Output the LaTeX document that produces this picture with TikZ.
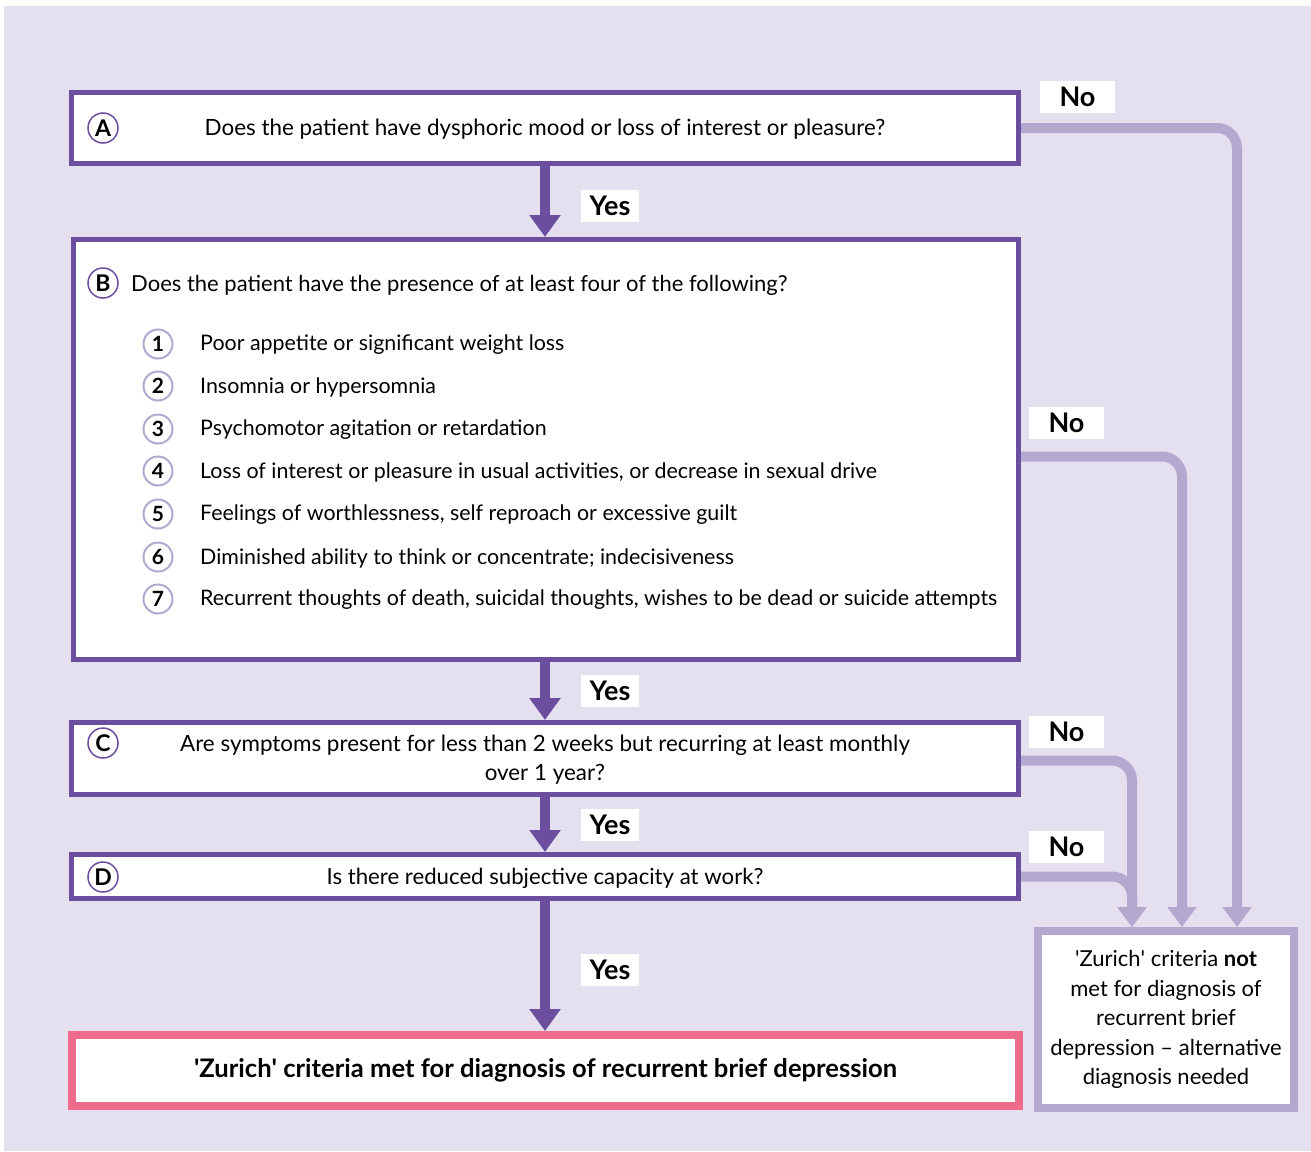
\documentclass[tikz,border=0pt]{standalone}
\usepackage{fontspec}
\setmainfont{Lato}
\usetikzlibrary{arrows.meta}
\definecolor{bg}{HTML}{E4E0F0}
\definecolor{dpurple}{HTML}{6B4F9E}
\definecolor{lpurple}{HTML}{B5A8CF}
\definecolor{pinkc}{HTML}{EF6B8C}
\newcommand{\sq}{\textquotesingle}
\begin{document}
\begin{tikzpicture}[x=1pt,y=-1pt,
  every node/.style={text=black},
  txt/.style={font=\fontsize{22.4}{29}\selectfont},
  itm/.style={font=\fontsize{21.4}{25}\selectfont, anchor=west, inner sep=0pt},
  qbox/.style={draw=dpurple, line width=5pt, fill=white, minimum width=947pt, inner sep=0pt},
  letter/.style={circle, draw=dpurple, line width=1.5pt, minimum size=30pt, inner sep=0pt, font=\fontsize{23}{23}\selectfont\bfseries},
  numc/.style={circle, draw=lpurple, line width=2pt, minimum size=29pt, inner sep=0pt, font=\fontsize{21}{21}\selectfont\bfseries},
  yeslink/.style={draw=dpurple, line width=10pt, -{Triangle[width=30pt,length=22pt]}},
  nolink/.style={draw=lpurple, line width=10pt, rounded corners=20pt, -{Triangle[width=28pt,length=20pt]}},
  tag/.style={fill=white, inner sep=0pt, minimum height=32pt, font=\fontsize{27}{27}\selectfont\bfseries},
  yestag/.style={tag, minimum width=58pt},
  notag/.style={tag, minimum width=75pt}]

% background panel
\useasboundingbox (0,0) rectangle (1311,1151);
\fill[bg] (4,6) rectangle (1311,1151);

% question boxes
\node[qbox, minimum height=71pt] (A) at (545,128) {};
\node[txt] (Atext) at (545,129.5) {Does the patient have dysphoric mood or loss of interest or pleasure?};
\node[letter] (Aletter) at (103,128) {A};

\node[qbox, minimum width=945pt, minimum height=420pt] (B) at (546,449.5) {};
\node[letter] (Bletter) at (103,283) {B};
\node[txt, anchor=west, inner sep=0pt, font=\fontsize{22}{26}\selectfont] (Btext) at (131,285) {Does the patient have the presence of at least four of the following?};
\foreach \n/\y/\t in {
  1/344/{Poor appetite or significant weight loss},
  2/386/{Insomnia or hypersomnia},
  3/429/{Psychomotor agitation or retardation},
  4/471/{Loss of interest or pleasure in usual activities, or decrease in sexual drive},
  5/514/{Feelings of worthlessness, self reproach or excessive guilt},
  6/557/{Diminished ability to think or concentrate; indecisiveness},
  7/599/{Recurrent thoughts of death, suicidal thoughts, wishes to be dead or suicide attempts}}{
  \node[numc] (num\n) at (158,\y) {\n};
  \node[itm] (item\n) at (200,\y+1) {\t};
}

\node[qbox, minimum height=72pt] (C) at (545,758.5) {};
\node[letter] (Cletter) at (103,743) {C};
\node[txt, align=center] (Ctext) at (545,760) {Are symptoms present for less than 2 weeks but recurring at least monthly\\ over 1 year?};

\node[qbox, minimum height=44pt] (D) at (545,876.5) {};
\node[letter] (Dletter) at (103,877) {D};
\node[txt, font=\fontsize{22.2}{26}\selectfont] (Dtext) at (545,878) {Is there reduced subjective capacity at work?};

% outcome boxes
\node[draw=pinkc, line width=8pt, fill=white, minimum width=947pt, minimum height=71pt, inner sep=0pt,
      font=\fontsize{25.6}{30}\selectfont\bfseries] (Met) at (545.5,1070.5)
      {\sq Zurich\sq{} criteria met for diagnosis of recurrent brief depression};
\node[draw=lpurple, line width=8pt, fill=white, minimum width=256pt, minimum height=177pt, inner sep=0pt,
      align=center, font=\fontsize{22}{29.6}\selectfont] (NotMet) at (1166,1019.5)
      {\sq Zurich\sq{} criteria \textbf{not}\\met for diagnosis of\\recurrent brief\\depression -- alternative\\diagnosis needed};

% yes branches
\draw[yeslink] (A.south) -- (A.south |- B.north);
\draw[yeslink] (A.south |- B.south) -- (A.south |- C.north);
\draw[yeslink] (C.south) -- (D.north);
\draw[yeslink] (D.south) -- (D.south |- Met.north);
\node[yestag] (yesA) at (610,206) {Yes};
\node[yestag] (yesB) at (610,691) {Yes};
\node[yestag] (yesC) at (610,825) {Yes};
\node[yestag] (yesD) at (610,970) {Yes};

% no branches
\draw[nolink] (A.east) -| ([xshift=71pt]NotMet.north);
\draw[nolink] ([yshift=-7pt]B.east) -| ([xshift=16pt]NotMet.north);
\draw[nolink] ([yshift=-2pt]C.east) -| ([xshift=-34pt]NotMet.north);
\draw[nolink] (D.east) -| ([xshift=-34pt]NotMet.north);
\node[notag] (noA) at (1077.5,96.5) {No};
\node[notag] (noB) at (1066.5,423) {No};
\node[notag] (noC) at (1066.5,731.5) {No};
\node[notag] (noD) at (1066.5,847) {No};
\end{tikzpicture}
\end{document}
